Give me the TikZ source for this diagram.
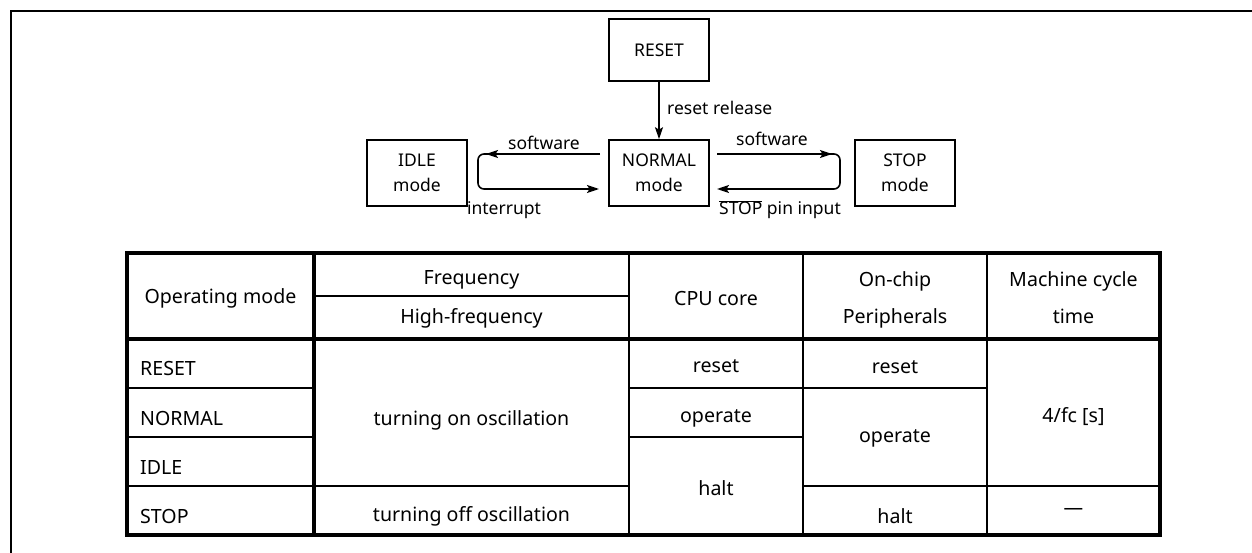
\documentclass[tikz,border=0pt]{standalone}
\usepackage{fontspec}
\setmainfont{Noto Sans}
\usetikzlibrary{arrows.meta}
\begin{document}
\begin{tikzpicture}[x=1pt,y=-1pt,
  line/.style={line width=1.6pt},
  arr/.style={line width=1.6pt,-{Stealth[length=12pt,width=8pt,inset=2.5pt]}},
  modebox/.style={draw,line width=1.6pt,minimum width=100pt,inner sep=0pt,align=center,
    font=\fontsize{17.5}{25}\selectfont},
  lbl/.style={inner sep=0pt,anchor=base,font=\fontsize{17.5}{20}\selectfont},
  cell/.style={inner sep=0pt,anchor=base,align=center,font=\fontsize{19.6}{20}\selectfont},
  thickrule/.style={line width=3.6pt},
  thinrule/.style={line width=1.8pt}]
\useasboundingbox (0,0) rectangle (1252,553);
% frame
\draw[line width=2.6pt] (11,553) -- (11,11) -- (1252,11);

% state diagram
\node[modebox,minimum height=62pt] (reset) at (659,50) {RESET};
\node[modebox,minimum height=66pt] (normal) at (659,173) {NORMAL\\mode};
\node[modebox,minimum height=66pt] (idle) at (417,173) {IDLE\\mode};
\node[modebox,minimum height=66pt] (stop) at (905,173) {STOP\\mode};

\draw[arr] (reset) -- (normal);
\node[lbl,anchor=base west] (lrr) at (667,115) {reset release};

% left loop
\coordinate (la) at (600,154);
\coordinate (lb) at (486,154);
\coordinate (lc) at (492,154);
\coordinate (ld) at (478,154);
\coordinate (le) at (478,189);
\coordinate (lf) at (599,189);
\draw[arr] (la) -- (lb);
\draw[arr,rounded corners=6pt] (lc) -- (ld) -- (le) -- (lf);
\node[lbl] (lsw) at (544,150) {software};
\node[lbl] (lint) at (504,215) {interrupt};

% right loop
\coordinate (ra) at (717,154);
\coordinate (rb) at (832,154);
\coordinate (rc) at (826,154);
\coordinate (rd) at (840,154);
\coordinate (re) at (840,189);
\coordinate (rf) at (717,189);
\draw[arr] (ra) -- (rb);
\draw[arr,rounded corners=6pt] (rc) -- (rd) -- (re) -- (rf);
\node[lbl] (rsw) at (772,146) {software};
\node[lbl] (rpin) at (780,215) {$\overline{\hbox{STOP}}$ pin input};

% table rules
\draw[thinrule] (314,296) -- (629,296);
\draw[thinrule] (629,253) -- (629,535);
\draw[thinrule] (803,253) -- (803,535);
\draw[thinrule] (987,253) -- (987,535);
\draw[thinrule] (127,388) -- (314,388);
\draw[thinrule] (127,437) -- (314,437);
\draw[thinrule] (127,486) -- (629,486);
\draw[thinrule] (629,388) -- (803,388);
\draw[thinrule] (629,437) -- (803,437);
\draw[thinrule] (803,388) -- (987,388);
\draw[thinrule] (803,486) -- (1160,486);
\draw[thickrule] (127,339) -- (1160,339);
\draw[thickrule] (314,253) -- (314,535);
\draw[thickrule] (127,253) rectangle (1160,535);

% header
\node[cell] (h1) at (220.5,303) {Operating mode};
\node[cell] (h2a) at (471.5,284) {Frequency};
\node[cell] (h2b) at (471.5,323) {High-frequency};
\node[cell] (h3) at (716,305) {CPU core};
\node[cell] (h4a) at (895,287) {On-chip};
\node[cell] (h4b) at (895,323) {Peripherals};
\node[cell] (h5a) at (1073.5,287) {Machine cycle};
\node[cell] (h5b) at (1073.5,323) {time};

% body
\node[cell,anchor=base west] (m1) at (140,375) {RESET};
\node[cell,anchor=base west] (m2) at (140,425) {NORMAL};
\node[cell,anchor=base west] (m3) at (140,474) {IDLE};
\node[cell,anchor=base west] (m4) at (140,523) {STOP};
\node[cell] (f1) at (471.5,425) {turning on oscillation};
\node[cell] (f2) at (471.5,521) {turning off oscillation};
\node[cell] (c1) at (716,372) {reset};
\node[cell] (c2) at (716,422) {operate};
\node[cell] (c3) at (716,495) {halt};
\node[cell] (p1) at (895,373) {reset};
\node[cell] (p2) at (895,442) {operate};
\node[cell] (p3) at (895,523) {halt};
\node[cell] (t1) at (1073.5,422) {4/fc [s]};
\node[cell] (t2) at (1073.5,514) {—};
\end{tikzpicture}
\end{document}
